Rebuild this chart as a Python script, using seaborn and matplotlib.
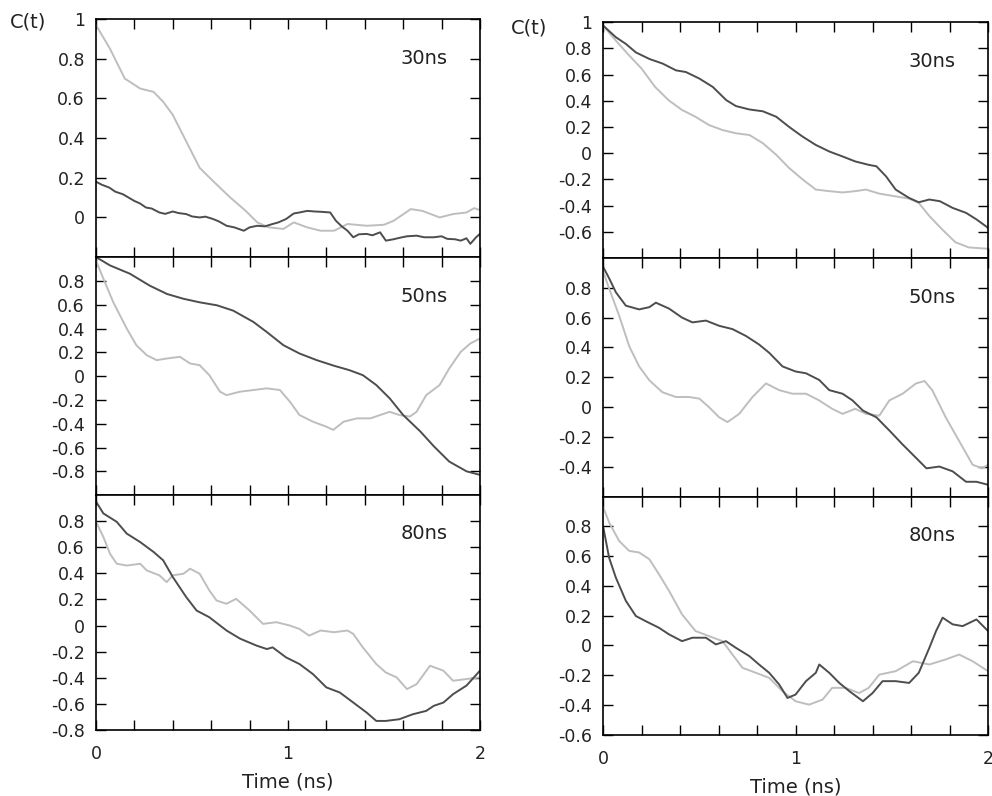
import matplotlib
matplotlib.use("Agg")
import matplotlib.pyplot as plt
import seaborn as sns

# C(t) curves; time in ns. "dark" and "light" are the two traces.

# left column, 30ns
T_L30_LIGHT = [0, 0.073, 0.15, 0.23, 0.30, 0.35, 0.40, 0.47, 0.54, 0.61, 0.70, 0.78, 0.84, 0.90, 0.976,
               1.03, 1.10, 1.17, 1.24, 1.31, 1.41, 1.50, 1.55, 1.64, 1.70, 1.79, 1.86, 1.93, 1.97, 2.0]
C_L30_LIGHT = [0.97, 0.85, 0.70, 0.65, 0.633, 0.583, 0.517, 0.383, 0.25, 0.183, 0.10, 0.033, -0.025, -0.05, -0.058,
               -0.025, -0.05, -0.067, -0.067, -0.033, -0.042, -0.037, -0.017, 0.042, 0.033, 0.0, 0.017, 0.025, 0.047, 0.037]
T_L30_DARK = [0.00, 0.03, 0.07, 0.10, 0.14, 0.17, 0.20, 0.23, 0.26, 0.29, 0.33, 0.36, 0.40, 0.43, 0.47, 0.50, 0.54, 0.57,
              0.61, 0.64, 0.68, 0.72, 0.77, 0.80, 0.84, 0.88, 0.92, 0.95, 0.99, 1.03, 1.06, 1.10, 1.14, 1.18, 1.22, 1.25,
              1.28, 1.31, 1.34, 1.37, 1.41, 1.44, 1.48, 1.51, 1.55, 1.58, 1.62, 1.67, 1.71, 1.76, 1.80, 1.83, 1.87, 1.90,
              1.93, 1.95, 1.98, 2.00]
C_L30_DARK = [0.18, 0.165, 0.15, 0.13, 0.117, 0.10, 0.083, 0.07, 0.05, 0.045, 0.025, 0.018, 0.03, 0.022, 0.017, 0.005, 0.0,
              0.004, -0.008, -0.02, -0.042, -0.05, -0.067, -0.05, -0.042, -0.045, -0.033, -0.025, -0.008, 0.02, 0.025, 0.033,
              0.03, 0.028, 0.025, -0.017, -0.045, -0.067, -0.10, -0.085, -0.083, -0.09, -0.075, -0.117, -0.11, -0.103, -0.095,
              -0.092, -0.10, -0.10, -0.095, -0.108, -0.11, -0.117, -0.105, -0.133, -0.10, -0.083]

# left column, 50ns
T_L50_DARK = [0, 0.073, 0.177, 0.28, 0.37, 0.455, 0.54, 0.63, 0.715, 0.82, 0.89, 0.976, 1.06, 1.15, 1.24, 1.32, 1.39,
              1.46, 1.53, 1.60, 1.69, 1.76, 1.84, 1.93, 2.0]
C_L50_DARK = [1.0, 0.93, 0.86, 0.76, 0.69, 0.65, 0.62, 0.595, 0.55, 0.455, 0.37, 0.26, 0.19, 0.134, 0.087, 0.05, 0.008,
              -0.075, -0.187, -0.327, -0.466, -0.59, -0.718, -0.80, -0.83]
T_L50_LIGHT = [0, 0.038, 0.09, 0.16, 0.21, 0.264, 0.316, 0.368, 0.4375, 0.49, 0.54, 0.59, 0.646, 0.68, 0.75, 0.82, 0.889,
               0.958, 1.01, 1.06, 1.13, 1.20, 1.236, 1.29, 1.36, 1.43, 1.48, 1.53, 1.58, 1.635, 1.67, 1.72, 1.79, 1.84,
               1.90, 1.95, 2.0]
C_L50_LIGHT = [0.97, 0.82, 0.62, 0.40, 0.26, 0.176, 0.134, 0.148, 0.162, 0.106, 0.092, 0.008, -0.131, -0.16, -0.131,
               -0.117, -0.103, -0.117, -0.215, -0.327, -0.383, -0.425, -0.452, -0.383, -0.355, -0.355, -0.327, -0.30,
               -0.327, -0.34, -0.30, -0.16, -0.075, 0.064, 0.204, 0.274, 0.316]

# left column, 80ns
T_L80_DARK = [0, 0.038, 0.108, 0.16, 0.23, 0.30, 0.35, 0.40, 0.47, 0.524, 0.59, 0.68, 0.75, 0.837, 0.89, 0.92, 0.99,
              1.06, 1.13, 1.20, 1.27, 1.34, 1.41, 1.46, 1.51, 1.58, 1.65, 1.72, 1.76, 1.81, 1.86, 1.93, 2.0]
C_L80_DARK = [0.95, 0.86, 0.795, 0.705, 0.64, 0.564, 0.50, 0.372, 0.218, 0.115, 0.064, -0.038, -0.10, -0.154, -0.18,
              -0.167, -0.244, -0.295, -0.372, -0.474, -0.513, -0.59, -0.667, -0.731, -0.731, -0.718, -0.68, -0.654,
              -0.615, -0.59, -0.526, -0.46, -0.346]
T_L80_LIGHT = [0, 0.038, 0.073, 0.108, 0.16, 0.23, 0.264, 0.33, 0.368, 0.40, 0.455, 0.49, 0.54, 0.59, 0.628, 0.68, 0.73,
               0.80, 0.87, 0.94, 1.01, 1.06, 1.11, 1.17, 1.24, 1.31, 1.34, 1.39, 1.46, 1.51, 1.566, 1.62, 1.67, 1.74,
               1.81, 1.86, 1.93, 2.0]
C_L80_LIGHT = [0.795, 0.68, 0.55, 0.474, 0.46, 0.474, 0.423, 0.385, 0.333, 0.385, 0.397, 0.436, 0.397, 0.27, 0.192,
               0.167, 0.205, 0.115, 0.013, 0.026, 0.0, -0.026, -0.077, -0.038, -0.051, -0.038, -0.064, -0.167, -0.295,
               -0.36, -0.397, -0.487, -0.449, -0.308, -0.346, -0.423, -0.41, -0.397]

# right column, 30ns
T_R30_DARK = [0, 0.066, 0.118, 0.17, 0.24, 0.31, 0.378, 0.43, 0.50, 0.57, 0.64, 0.69, 0.76, 0.83, 0.90, 0.967, 1.036,
              1.105, 1.175, 1.244, 1.31, 1.38, 1.42, 1.47, 1.52, 1.59, 1.64, 1.695, 1.75, 1.816, 1.886, 1.94, 2.0]
C_R30_DARK = [0.975, 0.886, 0.835, 0.77, 0.72, 0.684, 0.633, 0.62, 0.57, 0.506, 0.405, 0.36, 0.334, 0.32, 0.278, 0.20,
              0.127, 0.063, 0.013, -0.025, -0.063, -0.089, -0.10, -0.177, -0.278, -0.342, -0.375, -0.354, -0.367,
              -0.418, -0.456, -0.506, -0.57]
T_R30_LIGHT = [0, 0.066, 0.135, 0.20, 0.27, 0.34, 0.41, 0.48, 0.55, 0.62, 0.69, 0.76, 0.83, 0.90, 0.967, 1.036, 1.105,
               1.175, 1.244, 1.31, 1.366, 1.435, 1.52, 1.59, 1.64, 1.695, 1.76, 1.83, 1.90, 2.0]
C_R30_LIGHT = [0.975, 0.86, 0.747, 0.646, 0.506, 0.405, 0.33, 0.278, 0.215, 0.177, 0.152, 0.139, 0.076, -0.013, -0.114,
               -0.20, -0.278, -0.29, -0.30, -0.29, -0.278, -0.309, -0.33, -0.347, -0.38, -0.48, -0.58, -0.68, -0.72, -0.73]

# right column, 50ns
T_R50_DARK = [0, 0.031, 0.066, 0.118, 0.187, 0.24, 0.274, 0.343, 0.41, 0.464, 0.534, 0.603, 0.672, 0.742, 0.81, 0.863,
              0.932, 1.0, 1.054, 1.123, 1.175, 1.244, 1.296, 1.35, 1.42, 1.49, 1.556, 1.626, 1.68, 1.747, 1.816, 1.886,
              1.94, 2.0]
C_R50_DARK = [0.94, 0.864, 0.77, 0.68, 0.655, 0.67, 0.70, 0.66, 0.60, 0.568, 0.58, 0.545, 0.523, 0.477, 0.42, 0.364,
              0.273, 0.239, 0.227, 0.182, 0.114, 0.09, 0.045, -0.023, -0.068, -0.16, -0.25, -0.34, -0.41, -0.398, -0.43,
              -0.50, -0.50, -0.52]
T_R50_LIGHT = [0, 0.031, 0.083, 0.135, 0.187, 0.24, 0.308, 0.378, 0.447, 0.50, 0.55, 0.603, 0.646, 0.707, 0.776, 0.846,
               0.915, 0.984, 1.054, 1.123, 1.19, 1.244, 1.31, 1.366, 1.435, 1.487, 1.556, 1.626, 1.67, 1.71, 1.78, 1.85,
               1.92, 1.97, 2.0]
C_R50_LIGHT = [0.91, 0.795, 0.614, 0.41, 0.273, 0.18, 0.10, 0.068, 0.068, 0.057, 0.0, -0.068, -0.10, -0.045, 0.068,
               0.159, 0.114, 0.09, 0.09, 0.045, -0.011, -0.045, -0.011, -0.045, -0.057, 0.045, 0.09, 0.159, 0.175, 0.114,
               -0.068, -0.227, -0.386, -0.41, -0.386]

# right column, 80ns
T_R80_DARK = [0, 0.031, 0.066, 0.118, 0.17, 0.22, 0.29, 0.343, 0.41, 0.464, 0.534, 0.586, 0.638, 0.69, 0.76, 0.81,
              0.863, 0.915, 0.958, 1.0, 1.054, 1.105, 1.123, 1.175, 1.227, 1.28, 1.35, 1.40, 1.452, 1.52, 1.59, 1.64,
              1.695, 1.73, 1.764, 1.816, 1.868, 1.94, 2.0]
C_R80_DARK = [0.80, 0.59, 0.456, 0.30, 0.198, 0.164, 0.119, 0.074, 0.029, 0.052, 0.052, 0.007, 0.029, -0.016, -0.072,
              -0.128, -0.184, -0.263, -0.353, -0.33, -0.24, -0.184, -0.128, -0.184, -0.252, -0.308, -0.375, -0.32, -0.24,
              -0.24, -0.252, -0.184, -0.016, 0.097, 0.187, 0.142, 0.13, 0.175, 0.097]
T_R80_LIGHT = [0, 0.031, 0.083, 0.135, 0.187, 0.24, 0.29, 0.343, 0.41, 0.48, 0.55, 0.62, 0.672, 0.724, 0.794, 0.863,
               0.932, 1.0, 1.07, 1.14, 1.19, 1.26, 1.33, 1.38, 1.435, 1.52, 1.61, 1.695, 1.78, 1.85, 1.92, 2.0]
C_R80_LIGHT = [0.93, 0.827, 0.703, 0.636, 0.625, 0.58, 0.479, 0.366, 0.209, 0.097, 0.063, 0.029, -0.061, -0.15, -0.184,
               -0.218, -0.308, -0.375, -0.398, -0.364, -0.285, -0.285, -0.32, -0.285, -0.196, -0.173, -0.106, -0.128,
               -0.094, -0.061, -0.106, -0.173]

PANEL_LABELS = ["30ns", "50ns", "80ns"]

DARK = "#4d4d4d"
LIGHT = "#bebebe"

sns.set_theme(style="ticks")
plt.rcParams["font.family"] = ["DejaVu Sans"]
plt.rcParams["axes.unicode_minus"] = False

fig = plt.figure(figsize=(9.92, 7.96), dpi=100)

# (rect, ylim, labelled y ticks, light t, light c, dark t, dark c)
panels = [
    ([0.0968, 0.677, 0.387, 0.299], (-0.2, 1.0), [0, 0.2, 0.4, 0.6, 0.8, 1.0],
     T_L30_LIGHT, C_L30_LIGHT, T_L30_DARK, C_L30_DARK),
    ([0.0968, 0.378, 0.387, 0.299], (-1.0, 1.0), [-0.8, -0.6, -0.4, -0.2, 0, 0.2, 0.4, 0.6, 0.8],
     T_L50_LIGHT, C_L50_LIGHT, T_L50_DARK, C_L50_DARK),
    ([0.0968, 0.083, 0.387, 0.295], (-0.8, 1.0), [-0.8, -0.6, -0.4, -0.2, 0, 0.2, 0.4, 0.6, 0.8],
     T_L80_LIGHT, C_L80_LIGHT, T_L80_DARK, C_L80_DARK),
    ([0.608, 0.676, 0.388, 0.296], (-0.8, 1.0), [-0.6, -0.4, -0.2, 0, 0.2, 0.4, 0.6, 0.8, 1.0],
     T_R30_LIGHT, C_R30_LIGHT, T_R30_DARK, C_R30_DARK),
    ([0.608, 0.376, 0.388, 0.300], (-0.6, 1.0), [-0.4, -0.2, 0, 0.2, 0.4, 0.6, 0.8],
     T_R50_LIGHT, C_R50_LIGHT, T_R50_DARK, C_R50_DARK),
    ([0.608, 0.077, 0.388, 0.299], (-0.6, 1.0), [-0.6, -0.4, -0.2, 0, 0.2, 0.4, 0.6, 0.8],
     T_R80_LIGHT, C_R80_LIGHT, T_R80_DARK, C_R80_DARK),
]

for i, (rect, ylim, yt, tl, cl, td, cd) in enumerate(panels):
    ax = fig.add_axes(rect)
    sns.lineplot(x=tl, y=cl, ax=ax, color=LIGHT, linewidth=1.4, estimator=None, sort=False)
    sns.lineplot(x=td, y=cd, ax=ax, color=DARK, linewidth=1.4, estimator=None, sort=False)
    ax.set_xlim(0, 2)
    ax.set_ylim(*ylim)
    ax.set_xticks([0, 1, 2])
    ax.set_xticks([k * 0.2 for k in range(11)], minor=True)
    ax.set_yticks(yt)
    ax.set_yticklabels(["%g" % v for v in yt])
    ax.tick_params(axis="both", which="both", direction="in", top=True, right=True,
                   length=7, width=1.0, color="black", labelsize=12.5, labelcolor="#222222")
    ax.tick_params(axis="x", pad=11)
    ax.tick_params(axis="y", pad=8)
    for s in ax.spines.values():
        s.set_linewidth(1.2)
        s.set_color("black")
    ax.set_xlabel("")
    ax.set_ylabel("")
    row = i % 3
    if row == 2:
        ax.set_xticklabels(["0", "1", "2"])
        ax.set_xlabel("Time (ns)", fontsize=14, color="#222222", labelpad=7)
    else:
        ax.set_xticklabels([])
    ax.text(0.855, 0.835, PANEL_LABELS[row], transform=ax.transAxes, ha="center", va="center",
            fontsize=14, color="#222222")

fig.text(28 / 992, 1 - 22 / 796, "C(t)", ha="center", va="center", fontsize=14, color="#222222")
fig.text(529 / 992, 1 - 28 / 796, "C(t)", ha="center", va="center", fontsize=14, color="#222222")

fig.savefig("out.png", dpi=100, facecolor="white")
